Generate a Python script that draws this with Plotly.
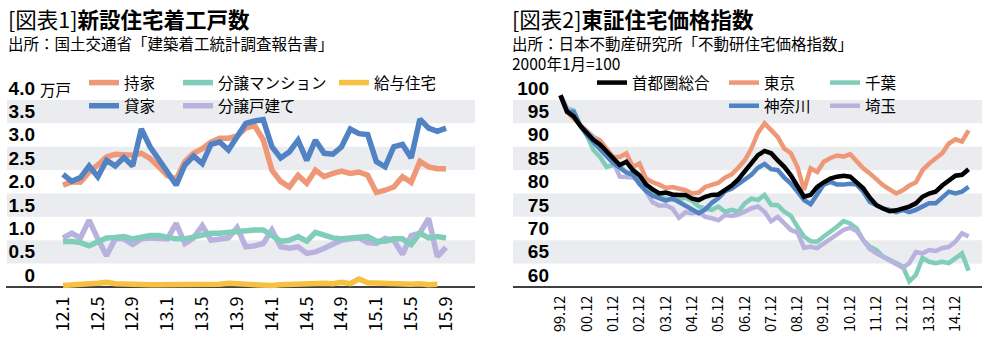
import plotly.graph_objects as go

W, H = 987, 352
FONT = "Noto Sans CJK JP"
NUMFONT = "Liberation Sans"

# ---------------- Chart 1: 新設住宅着工戸数 (万戸), monthly 2012.1 - 2015.9
left_ticktext = ["12.1", "12.5", "12.9", "13.1", "13.5", "13.9",
                 "14.1", "14.5", "14.9", "15.1", "15.5", "15.9"]
mochiie = [2.18, 2.25, 2.24, 2.46, 2.61, 2.78, 2.84, 2.82, 2.82, 2.86,
           2.75, 2.57, 2.38, 2.31, 2.68, 2.86, 2.96, 3.10, 3.18, 3.18,
           3.23, 3.40, 3.45, 3.15, 2.50, 2.26, 2.14, 2.39, 2.22, 2.50,
           2.36, 2.43, 2.48, 2.43, 2.46, 2.39, 2.02, 2.07, 2.14, 2.36,
           2.24, 2.69, 2.57, 2.53, 2.53]
kashiya = [2.41, 2.26, 2.34, 2.59, 2.36, 2.71, 2.59, 2.77, 2.59, 3.38,
           3.00, 2.75, 2.46, 2.18, 2.61, 2.80, 2.64, 3.05, 3.10, 2.93,
           3.21, 3.50, 3.55, 3.58, 3.00, 2.76, 2.89, 3.14, 2.71, 3.14,
           2.86, 2.84, 3.00, 3.38, 3.28, 3.26, 2.68, 2.57, 3.00, 3.05,
           2.76, 3.59, 3.40, 3.33, 3.40]
mansion = [0.97, 0.98, 0.95, 0.88, 0.97, 1.05, 1.06, 1.08, 1.03, 1.08,
           1.10, 1.10, 1.05, 1.03, 1.03, 1.06, 1.10, 1.15, 1.15, 1.17,
           1.20, 1.22, 1.22, 1.22, 1.10, 0.98, 1.00, 1.08, 0.98, 1.17,
           1.11, 1.05, 1.03, 1.04, 1.05, 1.08, 0.98, 0.98, 1.03, 1.03,
           0.91, 1.15, 1.05, 1.08, 1.05]
kodate = [1.05, 1.15, 1.05, 1.43, 1.03, 0.67, 1.03, 1.03, 0.91, 1.03,
          1.05, 1.03, 1.03, 1.36, 0.93, 1.05, 1.31, 1.00, 1.03, 1.05,
          1.27, 0.86, 0.88, 0.93, 1.22, 0.86, 0.83, 0.86, 0.72, 0.75,
          0.83, 0.93, 1.00, 1.03, 1.05, 0.95, 0.93, 1.04, 1.00, 0.70,
          1.10, 1.15, 1.47, 0.65, 0.85]
kyuyo = [0.03, 0.05, 0.06, 0.07, 0.08, 0.10, 0.07, 0.06, 0.05, 0.05,
         0.05, 0.05, 0.05, 0.05, 0.06, 0.06, 0.06, 0.07, 0.06, 0.08,
         0.07, 0.06, 0.05, 0.04, 0.03, 0.05, 0.06, 0.07, 0.06, 0.07,
         0.08, 0.07, 0.10, 0.07, 0.17, 0.09, 0.08, 0.07, 0.08, 0.07,
         0.06, 0.07, 0.05, 0.06]
left_yticks = [0, 0.5, 1.0, 1.5, 2.0, 2.5, 3.0, 3.5, 4.0]
left_yticktext = ["0", "0.5", "1.0", "1.5", "2.0", "2.5", "3.0", "3.5", "4.0"]

# ---------------- Chart 2: 東証住宅価格指数 (2000年1月=100), quarterly readings 1999.12 - 2015.6
right_ticktext = ["99.12", "00.12", "01.12", "02.12", "03.12", "04.12", "05.12", "06.12",
                  "07.12", "08.12", "09.12", "10.12", "11.12", "12.12", "13.12", "14.12"]
shutoken = [101.0, 97.5, 96.5, 94.5, 93.0, 91.5, 90.5, 89.0, 87.5, 86.1,
            86.8, 85.0, 83.9, 81.9, 80.9, 80.0, 80.2, 79.8, 79.7, 79.7,
            78.9, 78.6, 79.3, 79.7, 79.8, 80.7, 81.7, 83.0, 84.8, 86.4,
            88.2, 89.1, 88.6, 87.1, 85.7, 83.9, 81.8, 79.3, 79.7, 81.4,
            82.4, 83.2, 83.6, 83.8, 83.6, 82.4, 81.1, 79.1, 77.5, 76.8,
            76.2, 76.4, 76.8, 77.2, 77.9, 79.3, 80.0, 80.4, 81.7, 82.9,
            83.8, 84.0, 85.2]
tokyo = [101.0, 97.5, 96.0, 94.6, 93.3, 92.1, 91.4, 89.6, 87.8, 87.8,
         88.6, 85.7, 86.4, 83.2, 82.4, 81.9, 81.2, 81.4, 81.1, 80.7,
         80.0, 80.2, 81.4, 81.8, 82.3, 83.4, 84.1, 85.5, 87.1, 89.6,
         93.0, 95.0, 93.5, 92.1, 89.6, 88.6, 85.7, 80.8, 85.4, 84.6,
         86.8, 87.6, 88.1, 87.9, 88.4, 86.8, 85.4, 84.3, 82.9, 81.8,
         80.9, 80.0, 80.7, 81.7, 82.4, 85.0, 86.4, 87.4, 88.6, 90.7,
         91.6, 91.1, 93.5]
kanagawa = [101.0, 97.5, 97.5, 94.5, 92.5, 91.0, 89.5, 88.0, 86.5, 85.5,
            84.5, 84.0, 82.0, 80.5, 79.5, 79.0, 78.5, 79.0, 78.2, 77.5,
            76.7, 75.8, 76.6, 78.0, 79.0, 80.5, 81.0, 82.0, 83.0, 84.0,
            85.5, 86.3, 85.2, 85.0, 83.4, 82.1, 80.4, 78.6, 77.7, 80.0,
            81.9, 82.5, 81.9, 81.9, 82.1, 81.9, 80.4, 78.2, 77.5, 76.8,
            76.5, 76.0, 76.5, 76.0, 76.5, 77.2, 77.9, 77.9, 79.3, 80.4,
            80.0, 80.4, 81.4]
chiba = [101.0, 98.2, 97.8, 94.6, 92.5, 89.3, 87.8, 85.7, 86.1, 85.9,
         84.5, 84.3, 83.6, 82.2, 80.5, 79.7, 78.9, 78.6, 78.8, 79.1,
         78.4, 77.2, 76.8, 76.5, 77.2, 76.1, 76.5, 76.1, 77.9, 78.9,
         78.6, 79.7, 77.6, 77.5, 76.1, 75.2, 72.9, 70.8, 69.8, 69.7,
         70.8, 71.8, 72.9, 74.1, 73.6, 72.5, 70.0, 68.6, 67.9, 66.5,
         65.8, 65.1, 64.4, 61.2, 62.6, 66.2, 65.4, 65.1, 65.4, 65.1,
         66.2, 67.2, 63.5]
saitama = [101.0, 98.2, 97.1, 94.6, 93.2, 92.1, 89.6, 88.2, 86.9, 83.6,
           83.4, 83.4, 82.7, 80.4, 78.1, 77.4, 77.5, 76.8, 74.8, 76.0,
           75.8, 76.0, 75.0, 74.7, 74.3, 75.4, 75.2, 75.5, 76.2, 76.8,
           77.2, 76.1, 74.1, 75.0, 73.6, 72.2, 71.7, 68.4, 68.6, 68.3,
           69.3, 70.2, 71.1, 72.2, 72.7, 72.0, 70.0, 68.1, 67.2, 66.5,
           65.8, 64.9, 64.1, 65.1, 67.5, 67.2, 67.9, 67.7, 68.3, 68.6,
           69.7, 71.5, 70.8]
right_yticks = [60, 65, 70, 75, 80, 85, 90, 95, 100]

# ---------------- styles
C_OR = "rgb(238,152,120)"
C_BL = "rgb(80,130,196)"
C_TE = "rgb(128,205,186)"
C_LA = "rgb(186,178,222)"
C_YE = "rgb(246,192,64)"
C_BK = "rgb(0,0,0)"
BAND = "rgb(234,236,239)"

x_left = list(range(len(mochiie)))
x_right = [3 * k for k in range(len(tokyo))]

fig = go.Figure()

def add(x, y, name, color, width, xa, ya, legend, rank):
    fig.add_trace(go.Scatter(x=x, y=y, name=name, mode="lines",
                             line=dict(color=color, width=width),
                             xaxis=xa, yaxis=ya, legend=legend, legendrank=rank,
                             hoverinfo="skip"))

LW1, LW2 = 5.5, 4.5
add(x_left, mochiie, "持家", C_OR, LW1, "x", "y", "legend", 1)
add(x_left, kashiya, "貸家", C_BL, LW1, "x", "y", "legend", 2)
add(x_left, kodate, "分譲戸建て", C_LA, LW1, "x", "y", "legend2", 2)
add(x_left, mansion, "分譲マンション", C_TE, LW1, "x", "y", "legend2", 1)
add(list(range(len(kyuyo))), kyuyo, "給与住宅", C_YE, LW1, "x", "y", "legend3", 1)

add(x_right, tokyo, "東京", C_OR, LW2, "x2", "y2", "legend5", 1)
add(x_right, chiba, "千葉", C_TE, LW2, "x2", "y2", "legend6", 1)
add(x_right, saitama, "埼玉", C_LA, LW2, "x2", "y2", "legend6", 2)
add(x_right, kanagawa, "神奈川", C_BL, LW2, "x2", "y2", "legend5", 2)
add(x_right, shutoken, "首都圏総合", C_BK, LW2, "x2", "y2", "legend4", 1)

# ---------------- geometry (pixels)
def fx(p):
    return p / W

def fy(p):
    return 1 - p / H

L_DOM = (38, 475)
L_X0PX, L_STEP = 63, 8.705
R_DOM = (552, 982)
R_X0PX, R_STEP = 560.5, 2.194
Y_TOP_L, Y_BOT_PX = 100, 287   # 4.0 and 0
L_SCALE = (Y_BOT_PX - Y_TOP_L) / 4.0
R_SCALE = (Y_BOT_PX - Y_TOP_L) / 40.0

l_yrange = [-0.04, 4.01]
r_yrange = [59.6, 102.0]

def ydom(rng, scale, zero_val):
    top = Y_BOT_PX - (rng[1] - zero_val) * scale
    bot = Y_BOT_PX - (rng[0] - zero_val) * scale
    return [fy(bot), fy(top)]

tickfont_y = dict(family=NUMFONT, size=19, color="black", weight="bold")
common = dict(showgrid=False, zeroline=False, showline=False, ticks="", automargin=False)

fig.update_layout(
    width=W, height=H, margin=dict(l=0, r=0, t=0, b=0, autoexpand=False),
    paper_bgcolor="white", plot_bgcolor="rgba(0,0,0,0)",
    font=dict(family=FONT, color="black"),
    xaxis=dict(domain=[fx(L_DOM[0]), fx(L_DOM[1])],
               range=[-(L_X0PX - L_DOM[0]) / L_STEP, 44 + (L_DOM[1] - (L_X0PX + 44 * L_STEP)) / L_STEP],
               tickvals=list(range(0, 45, 4)), ticktext=left_ticktext, tickangle=-90,
               tickfont=dict(family=FONT, size=18, color="black"),
               ticklabelstandoff=3, **common),
    yaxis=dict(domain=ydom(l_yrange, L_SCALE, 0), range=l_yrange,
               tickvals=left_yticks, ticktext=left_yticktext, tickfont=tickfont_y,
               ticklabelshift=-12, ticklabelstandoff=2, **common),
    xaxis2=dict(domain=[fx(R_DOM[0]), fx(R_DOM[1])],
                range=[-(R_X0PX - R_DOM[0]) / R_STEP, (R_DOM[1] - R_X0PX) / R_STEP],
                tickvals=list(range(0, 181, 12)), ticktext=right_ticktext, tickangle=-90,
                tickfont=dict(family=FONT, size=14.5, color="black"),
                ticklabelstandoff=3, anchor="y2", **common),
    yaxis2=dict(domain=ydom(r_yrange, R_SCALE, 60), range=r_yrange,
                tickvals=right_yticks, ticktext=[str(v) for v in right_yticks],
                tickfont=tickfont_y,
                ticklabelshift=-12, ticklabelstandoff=2, anchor="x2", **common),
)

# bands + baseline
shapes = []
for lo in [0.5, 1.5, 2.5, 3.5]:
    shapes.append(dict(type="rect", xref="paper", yref="y", x0=fx(7), x1=fx(475),
                       y0=lo, y1=lo + 0.5, fillcolor=BAND, line=dict(width=0), layer="below"))
for lo in [65, 75, 85, 95]:
    shapes.append(dict(type="rect", xref="paper", yref="y2", x0=fx(513), x1=fx(982),
                       y0=lo, y1=lo + 5, fillcolor=BAND, line=dict(width=0), layer="below"))
shapes.append(dict(type="line", xref="paper", yref="y", x0=fx(6), x1=fx(475), y0=0, y1=0,
                   line=dict(color="black", width=1.5), layer="below"))
shapes.append(dict(type="line", xref="paper", yref="y2", x0=fx(513), x1=fx(982), y0=60, y1=60,
                   line=dict(color="black", width=1.5), layer="below"))
fig.update_layout(shapes=shapes)

# titles
ann = [
    dict(text="[図表1]<b>新設住宅着工戸数</b>", x=fx(6), y=fy(19), font=dict(size=21.5)),
    dict(text="出所：国土交通省「建築着工統計調査報告書」", x=fx(6), y=fy(43), font=dict(size=15.5)),
    dict(text="[図表2]<b>東証住宅価格指数</b>", x=fx(510), y=fy(19), font=dict(size=21.5)),
    dict(text="出所：日本不動産研究所「不動研住宅価格指数」<br>2000年1月=100",
         x=fx(510), y=fy(53), font=dict(size=15.5), align="left"),
    dict(text="万戸", x=fx(38), y=fy(89), font=dict(size=15.5)),
]
for a in ann:
    a.update(xref="paper", yref="paper", xanchor="left", yanchor="middle", showarrow=False)
    a["font"].update(family=FONT, color="black")
fig.update_layout(annotations=ann)

# legends (one per column)
def leg(swatch_px, row1_px):
    return dict(x=fx(swatch_px - 8), y=fy(row1_px - 15), xanchor="left", yanchor="top",
                orientation="v", bgcolor="rgba(0,0,0,0)", borderwidth=0,
                font=dict(family=FONT, size=15.5, color="black"),
                itemwidth=30, tracegroupgap=0, itemclick=False, itemdoubleclick=False)

fig.update_layout(
    legend=leg(92, 81), legend2=leg(186, 81), legend3=leg(342, 81),
    legend4=leg(600, 81), legend5=leg(732, 81), legend6=leg(833, 81),
)

fig.write_html("out.html")
